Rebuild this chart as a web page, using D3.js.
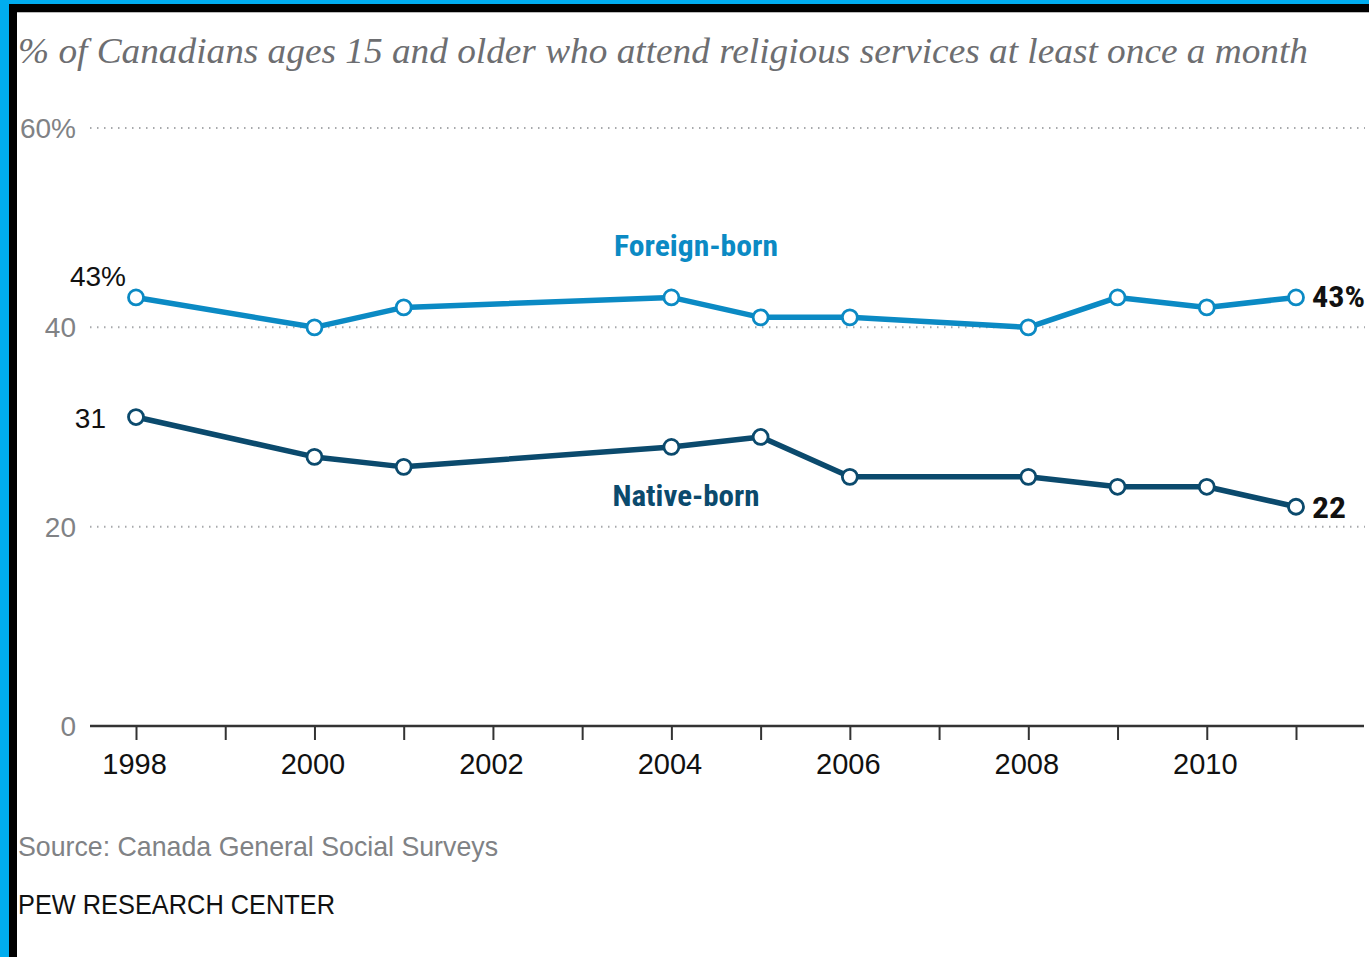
<!DOCTYPE html>
<html><head><meta charset="utf-8">
<script src="https://cdn.jsdelivr.net/npm/d3@7"></script>
<style>html,body{margin:0;padding:0;background:#fff;}svg{display:block;}</style>
</head><body>
<script>
const years = [1998, 2000, 2001, 2004, 2005, 2006, 2008, 2009, 2010, 2011];
const foreignBorn = [43, 40, 42, 43, 41, 41, 40, 43, 42, 43];
const nativeBorn = [31, 27, 26, 28, 29, 25, 25, 24, 24, 22];
const yTicks = [0, 20, 40, 60];
const yTickLabels = ["0", "20", "40", "60%"];
const xTickYears = d3.range(1998, 2012);
const xLabelYears = [1998, 2000, 2002, 2004, 2006, 2008, 2010];
const title = "% of Canadians ages 15 and older who attend religious services at least once a month";
const source = "Source: Canada General Social Surveys";
const brand = "PEW RESEARCH CENTER";

const W = 1369, H = 957;
const svg = d3.select("body").append("svg").attr("width", W).attr("height", H);
svg.append("rect").attr("width", W).attr("height", H).attr("fill", "#fff");
// frame
svg.append("rect").attr("x",0).attr("y",0).attr("width",W).attr("height",4).attr("fill","#00adef");
svg.append("rect").attr("x",0).attr("y",0).attr("width",9).attr("height",H).attr("fill","#00adef");
svg.append("rect").attr("x",9).attr("y",4).attr("width",W-9).attr("height",8).attr("fill","#000");
svg.append("rect").attr("x",9).attr("y",4).attr("width",8).attr("height",H-4).attr("fill","#000");
svg.append("rect").attr("x",17).attr("y",12).attr("width",W-17).attr("height",1).attr("fill","#bbb");

const x = d3.scaleLinear().domain([1998, 2011]).range([136, 1296]);
const y = d3.scaleLinear().domain([0, 60]).range([726, 128]);

svg.append("text").attr("x", 18).attr("y", 63).text(title)
  .attr("font-family", "'Liberation Serif', Georgia, serif").attr("font-style","italic")
  .attr("font-size", 36).attr("fill", "#6d6e71")
  .attr("textLength", 1290).attr("lengthAdjust", "spacingAndGlyphs");

// grid
const g = svg.append("g");
g.selectAll("line.grid").data(yTicks.filter(d => d > 0)).join("line")
  .attr("x1", 90).attr("x2", 1365).attr("y1", d => y(d)).attr("y2", d => y(d))
  .attr("stroke", "#a7a9ac").attr("stroke-width", 2).attr("stroke-dasharray", "1.5,5.5");
g.selectAll("text.ytick").data(yTicks).join("text")
  .attr("x", 76).attr("y", d => y(d) + 10).attr("text-anchor", "end")
  .attr("font-family", "'Liberation Sans Narrow', 'Liberation Sans', Arial, sans-serif")
  .attr("font-size", 28).attr("fill", "#808285").text((d,i) => yTickLabels[i]);

// x axis
const xAxis = d3.axisBottom(x).tickValues(xTickYears).tickSize(14).tickFormat(d => xLabelYears.includes(d) ? d : "");
const ax = svg.append("g").attr("transform", `translate(0,${y(0)})`).call(xAxis);
ax.select(".domain").remove();
ax.append("line").attr("x1", 90).attr("x2", 1364).attr("stroke", "#333").attr("stroke-width", 2.5);
ax.selectAll(".tick line").attr("stroke", "#333").attr("stroke-width", 2);
ax.selectAll(".tick text").attr("font-family", "'Liberation Sans', Arial, sans-serif")
  .attr("font-size", 29).attr("fill", "#111").attr("dy", 0).attr("y", 48).attr("dx", -2);

const line = d3.line().x(d => x(d[0])).y(d => y(d[1]));
const series = [
  {vals: foreignBorn, color: "#0b8ac4"},
  {vals: nativeBorn, color: "#0b4a6d"}
];
series.forEach(s => {
  const pts = years.map((yr, i) => [yr, s.vals[i]]);
  svg.append("path").datum(pts).attr("d", line).attr("fill", "none")
    .attr("stroke", s.color).attr("stroke-width", 5.5).attr("stroke-linejoin", "round");
  svg.selectAll(null).data(pts).join("circle")
    .attr("cx", d => x(d[0])).attr("cy", d => y(d[1])).attr("r", 7.5)
    .attr("fill", "#fff").attr("stroke", s.color).attr("stroke-width", 2.8);
});

// series labels
const cond = "'Liberation Sans Narrow', 'Roboto Condensed', 'Liberation Sans', sans-serif";
svg.append("text").attr("x", 696).attr("y", 256).attr("text-anchor","middle")
  .attr("font-family", cond).attr("font-weight","bold").attr("font-size", 29)
  .attr("fill", "#0b8ac4").attr("textLength", 164).attr("lengthAdjust","spacingAndGlyphs").text("Foreign-born");
svg.append("text").attr("x", 686).attr("y", 506).attr("text-anchor","middle")
  .attr("font-family", cond).attr("font-weight","bold").attr("font-size", 29)
  .attr("fill", "#0b4a6d").attr("textLength", 147).attr("lengthAdjust","spacingAndGlyphs").text("Native-born");

// end labels
const first = 0, last = years.length - 1;
svg.append("text").attr("x", 126).attr("y", y(foreignBorn[first]) - 11).attr("text-anchor","end")
  .attr("font-family", "'Liberation Sans', Arial, sans-serif").attr("font-size", 28).attr("fill", "#111")
  .text(foreignBorn[first] + "%");
svg.append("text").attr("x", 106).attr("y", y(nativeBorn[first]) + 11).attr("text-anchor","end")
  .attr("font-family", "'Liberation Sans', Arial, sans-serif").attr("font-size", 28).attr("fill", "#111")
  .text(nativeBorn[first]);
svg.append("text").attr("x", 1312).attr("y", y(foreignBorn[last]) + 10)
  .attr("font-family", cond).attr("font-weight","bold").attr("font-size", 30).attr("fill", "#111")
  .attr("textLength", 53).attr("lengthAdjust","spacingAndGlyphs")
  .text(foreignBorn[last] + "%");
svg.append("text").attr("x", 1312).attr("y", y(nativeBorn[last]) + 11)
  .attr("font-family", cond).attr("font-weight","bold").attr("font-size", 30).attr("fill", "#111")
  .attr("textLength", 34).attr("lengthAdjust","spacingAndGlyphs")
  .text(nativeBorn[last]);

// footer
svg.append("text").attr("x", 18).attr("y", 856).text(source)
  .attr("font-family", "'Liberation Sans Narrow', 'Liberation Sans', sans-serif").attr("font-size", 28)
  .attr("fill", "#808285").attr("textLength", 480).attr("lengthAdjust","spacingAndGlyphs");
svg.append("text").attr("x", 18).attr("y", 914).text(brand)
  .attr("font-family", "'Liberation Sans Narrow', 'Liberation Sans', sans-serif").attr("font-size", 28)
  .attr("fill", "#111").attr("textLength", 317).attr("lengthAdjust","spacingAndGlyphs");
</script>
</body></html>
